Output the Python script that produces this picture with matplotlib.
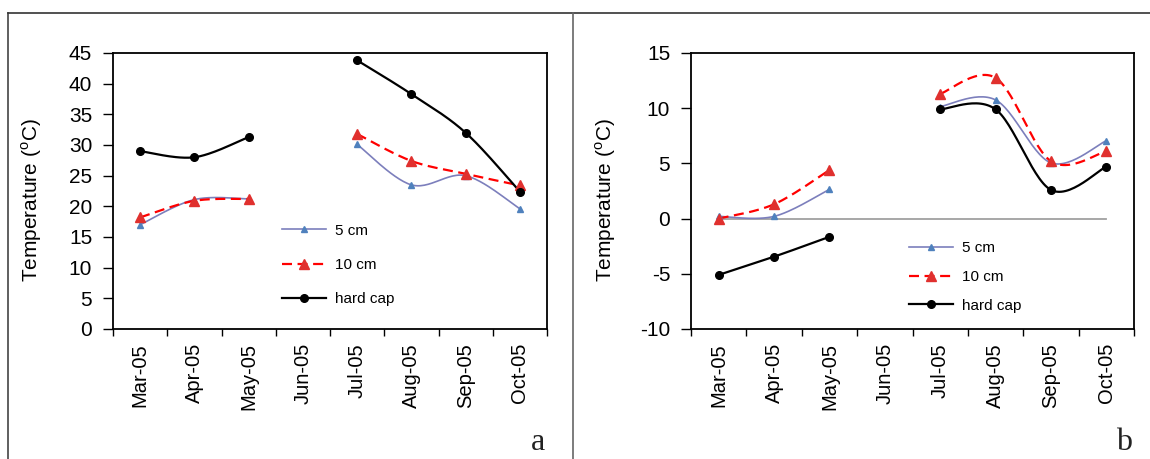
import numpy as np
import matplotlib
matplotlib.use("Agg")
import matplotlib.pyplot as plt
from matplotlib.lines import Line2D

plt.rcParams['font.family'] = ['Liberation Sans', 'DejaVu Sans']
plt.rcParams['mathtext.fontset'] = 'custom'
plt.rcParams['mathtext.rm'] = 'Liberation Sans'
plt.rcParams['axes.unicode_minus'] = False

months = ['Mar-05', 'Apr-05', 'May-05', 'Jun-05', 'Jul-05', 'Aug-05', 'Sep-05', 'Oct-05']
nan = np.nan

# panel a
a_5cm = [17.0, 21.1, 21.2, nan, 30.1, 23.5, 25.0, 19.6]
a_10cm = [18.2, 20.9, 21.2, nan, 31.8, 27.4, 25.3, 23.4]
a_hard = [29.0, 28.0, 31.3, nan, 43.8, 38.3, 32.0, 22.4]

# panel b
b_5cm = [0.2, 0.2, 2.65, nan, 10.15, 10.75, 5.05, 7.05]
b_10cm = [0.0, 1.3, 4.4, nan, 11.3, 12.75, 5.2, 6.1]
b_hard = [-5.1, -3.45, -1.65, nan, 9.9, 9.9, 2.6, 4.7]
b_zero = [0, 0, 0, 0, 0, 0, 0, 0]

series_names = ['5 cm', '10 cm', 'hard cap']


def smooth(xs, ys, n=30):
    # excel-like smoothed line: catmull-rom as bezier, per contiguous run
    out_x, out_y = [], []
    xs = np.asarray(xs, float)
    ys = np.asarray(ys, float)
    ok = ~np.isnan(ys)
    runs, cur = [], []
    for i in range(len(ys)):
        if ok[i]:
            cur.append(i)
        elif cur:
            runs.append(cur)
            cur = []
    if cur:
        runs.append(cur)
    for r in runs:
        px, py = xs[r], ys[r]
        m = len(r)
        for i in range(m - 1):
            p0 = np.array([px[max(i - 1, 0)], py[max(i - 1, 0)]])
            p1 = np.array([px[i], py[i]])
            p2 = np.array([px[i + 1], py[i + 1]])
            p3 = np.array([px[min(i + 2, m - 1)], py[min(i + 2, m - 1)]])
            c1 = p1 + (p2 - p0) / 6
            c2 = p2 - (p3 - p1) / 6
            t = np.linspace(0, 1, n)[:, None]
            pts = (1 - t) ** 3 * p1 + 3 * (1 - t) ** 2 * t * c1 + 3 * (1 - t) * t ** 2 * c2 + t ** 3 * p2
            out_x.extend(pts[:, 0])
            out_y.extend(pts[:, 1])
        out_x.append(nan)
        out_y.append(nan)
    return out_x, out_y


styles = [
    dict(color='#7C7FBC', lw=1.2, ls='-', marker='^', mfc='#4F81BD', mec='#4F81BD', ms=5),
    dict(color='#FF0000', lw=1.6, ls=(0, (4.5, 2.5)), marker='^', mfc='#E0302E', mec='#E0302E', ms=7.5),
    dict(color='black', lw=1.6, ls='-', marker='o', mfc='black', mec='black', ms=5.5),
]

W, H = 1150, 459
fig = plt.figure(figsize=(W / 100, H / 100), dpi=100)


def make_axes(left, right, ylim, ystep, data, legend_xy, legend_space, zero=None):
    ax = fig.add_axes([left / W, 1 - 329 / H, (right - left) / W, 276 / H])
    x = np.arange(len(months))
    if zero is not None:
        ax.plot(x, zero, color='#A0A0A0', lw=1.3, zorder=1)
    handles = []
    for ys, st, name in zip(data, styles, series_names):
        sx, sy = smooth(x, ys)
        ax.plot(sx, sy, color=st['color'], lw=st['lw'], ls=st['ls'], zorder=2)
        ax.plot(x, ys, ls='none', marker=st['marker'], mfc=st['mfc'], mec=st['mec'], ms=st['ms'], zorder=3)
        handles.append(Line2D([], [], color=st['color'], lw=st['lw'], ls=st['ls'], marker=st['marker'],
                              mfc=st['mfc'], mec=st['mec'], ms=st['ms'], label=name))
    ax.set_xlim(-0.5, len(months) - 0.5)
    ax.set_ylim(*ylim)
    ax.set_yticks(np.arange(ylim[0], ylim[1] + 0.1, ystep))
    ax.set_xticks(np.arange(-0.5, len(months), 1.0))
    ax.set_xticklabels([])
    ax.set_xticks(x, minor=True)
    ax.set_xticklabels(months, minor=True, rotation=90, fontsize=14.5)
    ax.tick_params(axis='x', which='major', length=5, width=1, direction='out')
    ax.tick_params(axis='x', which='minor', length=0, pad=10)
    ax.tick_params(axis='y', length=7, width=1, direction='out', pad=8, labelsize=15)
    for s in ax.spines.values():
        s.set_linewidth(1.3)
    fig.legend(handles=handles, loc='center left', bbox_to_anchor=legend_xy, bbox_transform=fig.transFigure,
               frameon=False, fontsize=11, handlelength=2.9, handletextpad=0.6, borderpad=0,
               borderaxespad=0, labelspacing=legend_space)
    return ax


make_axes(113, 547, (0, 45), 5, [a_5cm, a_10cm, a_hard], (282 / W, 1 - 265 / H), 1.32)
make_axes(691, 1134, (-10, 15), 5, [b_5cm, b_10cm, b_hard], (909 / W, 1 - 277 / H), 0.95, zero=b_zero)

ylab = r'Temperature ($^{\mathrm{o}}$C)'
fig.text(32 / W, 1 - 200 / H, ylab, rotation=90, ha='center', va='center', fontsize=15)
fig.text(606 / W, 1 - 200 / H, ylab, rotation=90, ha='center', va='center', fontsize=15)

fig.text(538 / W, 1.5 / H, 'a', family='Liberation Serif', fontsize=23, ha='center', va='bottom', color='#222222')
fig.text(1124 / W, 1.5 / H, 'b', family='Liberation Serif', fontsize=23, ha='center', va='bottom', color='#222222')

# outer frame and divider
fig.add_artist(Line2D([8 / W, 8 / W], [0, 1 - 13 / H], transform=fig.transFigure, color='#444444', lw=1.2))
fig.add_artist(Line2D([8 / W, 1], [1 - 13 / H, 1 - 13 / H], transform=fig.transFigure, color='#333333', lw=1.2))
fig.add_artist(Line2D([573 / W, 573 / W], [0, 1 - 13 / H], transform=fig.transFigure, color='#666666', lw=1.2))

fig.savefig('out.png', dpi=100)
